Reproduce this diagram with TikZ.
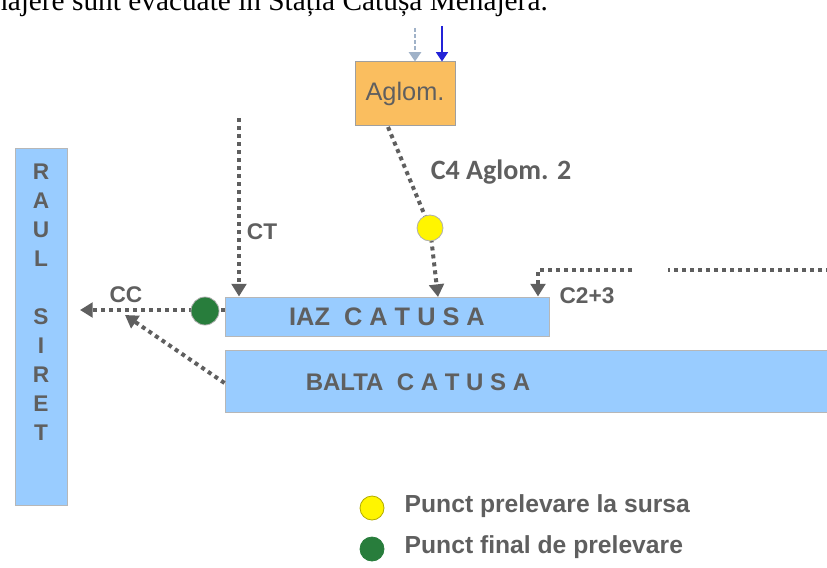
\documentclass[tikz,border=0pt]{standalone}
\usepackage{fontspec}
\setmainfont{Liberation Serif}
\setsansfont{Liberation Sans}
\newfontfamily\carlito{Carlito}
\usetikzlibrary{arrows.meta}
\definecolor{apa}{RGB}{153,204,255}
\definecolor{portocaliu}{RGB}{250,190,95}
\definecolor{gri}{RGB}{95,95,95}
\definecolor{cenusiu}{RGB}{160,178,200}
\definecolor{albastru}{RGB}{35,35,215}
\definecolor{galben}{RGB}{255,245,0}
\definecolor{verde}{RGB}{40,125,60}

\begin{document}
\begin{tikzpicture}[x=0.75pt,y=-0.75pt,
    bazin/.style={draw=gri!45, fill=apa, line width=0.75pt, inner sep=0pt},
    scurgere/.style={draw=gri, line width=3pt, dash pattern=on 3pt off 3pt, -{Triangle[length=9.5pt,width=11pt]}},
    eticheta/.style={text=gri, font=\sffamily\bfseries\fontsize{17}{20}\selectfont},
    scris/.style={text=gri, font=\sffamily\bfseries\fontsize{18}{21.75}\selectfont},
    punct/.style={circle, draw=gri!50, line width=0.6pt, inner sep=0pt}]
    \useasboundingbox (0,0) rectangle (827,567);
    \clip (0,0) rectangle (827,567);

    % text de deasupra, taiat
    \node[anchor=base west, inner sep=0pt, font=\fontsize{22}{26}\selectfont] (rand) at (-43,11) {menajere sunt evacuate în Stația Cătușa Menajeră.};

    % bazine si rau
    \node[bazin, minimum width=39pt, minimum height=267.75pt] (raul) at (41,326.5) {};
    \node[scris, align=center, font=\sffamily\bfseries\fontsize{17}{21.75}\selectfont] (raultxt) at (41,302) {R\\A\\U\\L\\[21.75pt]S\\I\\R\\E\\T};
    \node[bazin, minimum width=243pt, minimum height=29.25pt, scris, font=\sffamily\bfseries\fontsize{19}{22}\selectfont] (iaz) at (387,316.5) {IAZ\ \ C A T U S A};
    \node[bazin, minimum width=453.75pt, minimum height=46.5pt] (balta) at (527.5,381) {};
    \node[scris] (baltatxt) at (418,382) {BALTA\ \ C A T U S A};
    \node[draw=gri!60, fill=portocaliu, line width=0.75pt, minimum width=75pt, minimum height=47.25pt, text=gri, font=\sffamily\fontsize{19}{22}\selectfont] (aglom) at (405,93.5) {Aglom.};

    % intrari in aglomerare
    \coordinate (sursa1) at (415,28);
    \coordinate (sursa2) at (442,26);
    \draw[cenusiu, line width=2pt, dash pattern=on 3pt off 1.5pt, -{Triangle[length=7pt,width=9pt]}] (sursa1) -- (sursa1 |- aglom.north);
    \draw[albastru, line width=1.2pt, -{Triangle[length=7pt,width=9pt]}] (sursa2) -- (sursa2 |- aglom.north);

    % CT
    \coordinate (ct) at (239,118);
    \draw[scurgere] (ct) -- (ct |- iaz.north);
    \node[eticheta] (ctlbl) at (262,232) {CT};

    % C4 Aglom. 2
    \coordinate (c4) at (388,127);
    \coordinate (c4jos) at (438,297);
    \draw[scurgere] (c4) -- (430,228) -- (c4jos);
    \node[punct, fill=galben, minimum size=19.5pt] (psursa) at (430,228) {};
    \node[text=gri, font=\carlito\bfseries\fontsize{21}{24}\selectfont] (c4lbl) at (501,172) {C4 Aglom. 2};

    % C2+3
    \coordinate (c23) at (830,270);
    \coordinate (golD) at (668,270);
    \coordinate (golS) at (632,270);
    \coordinate (colt) at (538,270);
    \draw[scurgere] (c23) -- (golD) (golS) -- (colt) -- (colt |- iaz.north);
    \node[eticheta] (c23lbl) at (587,296) {C2+3};

    % CC
    \coordinate (cc) at (80,310);
    \coordinate (cc2) at (125,315);
    \draw[scurgere] (iaz.west |- cc) -- (cc);
    \draw[scurgere] ([yshift=-1.5pt]balta.west) -- (cc2);
    \node[punct, fill=verde, minimum size=21pt] (pfinal) at (205,311) {};
    \node[eticheta] (cclbl) at (126,295) {CC};

    % legenda
    \node[punct, fill=galben, draw=galben!70!black, minimum size=18pt] (leg1) at (372,508) {};
    \node[punct, fill=verde, draw=verde, minimum size=18pt] (leg2) at (372,549) {};
    \node[eticheta, anchor=west, font=\sffamily\bfseries\fontsize{18.5}{21}\selectfont] (leg1txt) at (400,506) {Punct prelevare la sursa};
    \node[eticheta, anchor=west, font=\sffamily\bfseries\fontsize{18.5}{21}\selectfont] (leg2txt) at (400,547) {Punct final de prelevare};
\end{tikzpicture}
\end{document}
